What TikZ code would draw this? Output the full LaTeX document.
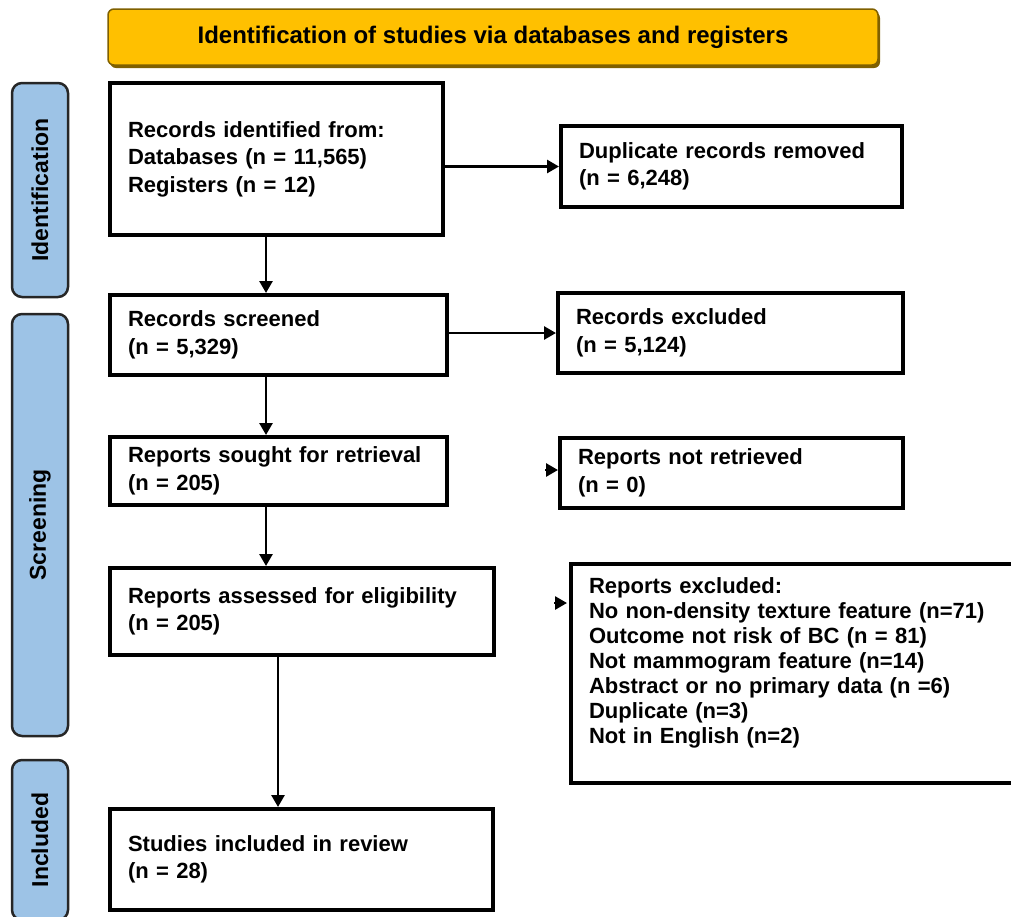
\documentclass[tikz,border=0pt]{standalone}
\usepackage{fontspec}
\setmainfont{Liberation Sans}
\usetikzlibrary{arrows.meta,calc,shadows}
\definecolor{bannerfill}{HTML}{FFC000}
\definecolor{bannerdark}{HTML}{7F6000}
\definecolor{phasefill}{HTML}{9DC3E6}
\begin{document}
\begin{tikzpicture}[x=1pt,y=-1pt,
  box/.style={draw=black, line width=4pt, fill=white, inner xsep=18pt, inner ysep=0pt,
    align=left, font=\fontsize{22}{27.5}\selectfont\bfseries},
  phase/.style={draw=black!85, line width=2.5pt, fill=phasefill, rounded corners=10pt,
    minimum height=56pt, inner sep=0pt, rotate=90, font=\fontsize{23}{23}\selectfont\bfseries},
  banner/.style={draw=bannerdark, line width=1.5pt, fill=bannerfill, rounded corners=6pt,
    minimum width=770pt, minimum height=56pt, inner sep=0pt,
    drop shadow={shadow xshift=2pt, shadow yshift=-3pt, fill=bannerdark, opacity=1},
    font=\fontsize{24}{24}\selectfont\bfseries},
  arr/.style={line width=2.7pt, -{Triangle[length=12pt,width=13pt]}}
]
\useasboundingbox (0,0) rectangle (1011,916);

% banner
\node[banner] (ban) at (493,37) {Identification of studies via databases and registers};

% phase labels
\node[phase, minimum width=214pt] (pid) at (40,190) {Identification};
\node[phase, minimum width=422pt] (pscr) at (40,525) {Screening};
\node[phase, minimum width=160pt] (pinc) at (40,840) {Included};

% boxes
\node[box, text width=297pt, minimum height=152pt] (b1) at (276.5,159)
  {Records identified from:\\ Databases (n = 11,565)\\ Registers (n = 12)};
\node[box, text width=305pt, minimum height=81pt] (dup) at (731.5,166.5)
  {Duplicate records removed\\ (n = 6,248)};
\node[box, text width=301pt, minimum height=80pt] (scr) at (278.5,335)
  {Records screened\\ (n = 5,329)};
\node[box, text width=309pt, minimum height=80pt] (exc) at (730.5,333)
  {Records excluded\\ (n = 5,124)};
\node[box, text width=301pt, minimum height=68pt] (sought) at (278.5,471)
  {Reports sought for retrieval\\ (n = 205)};
\node[box, text width=307pt, minimum height=70pt] (nr) at (731.5,473)
  {Reports not retrieved\\ (n = 0)};
\node[box, text width=348pt, minimum height=87pt] (ass) at (302,611.5)
  {Reports assessed for eligibility\\ (n = 205)};
\node[box, text width=433pt, minimum height=219pt, font=\fontsize{22}{25}\selectfont\bfseries] (rex) at (805.5,673.5)
  {Reports excluded:\\ No non-density texture feature (n=71)\\ Outcome not risk of BC (n = 81)\\ Not mammogram feature (n=14)\\ Abstract or no primary data (n =6)\\ Duplicate (n=3)\\ Not in English (n=2)\\ \mbox{}};
\node[box, text width=347pt, minimum height=101pt] (inc) at (301.5,859.5)
  {Studies included in review\\ (n = 28)};

% connectors
\draw[arr] ($(b1.south west)+(158,0)$) -- ($(scr.north west)+(158,0)$);
\draw[arr] ($(scr.south west)+(158,0)$) -- ($(sought.north west)+(158,0)$);
\draw[arr] ($(sought.south west)+(158,0)$) -- ($(ass.north west)+(158,0)$);
\draw[arr] ($(ass.south west)+(170,0)$) -- ($(inc.north west)+(170,0)$);
\draw[arr] (b1.east |- dup.west) -- (dup.west);
\draw[arr] (scr.east |- exc.west) -- (exc.west);
\coordinate (s1) at ($(nr.west)+(-13,-3)$);
\draw[arr] (s1) -- ($(nr.west)+(0,-3)$);
\coordinate (s2) at ($(rex.north west)+(-15,41)$);
\draw[arr] (s2) -- ($(rex.north west)+(-2,41)$);
\end{tikzpicture}
\end{document}
